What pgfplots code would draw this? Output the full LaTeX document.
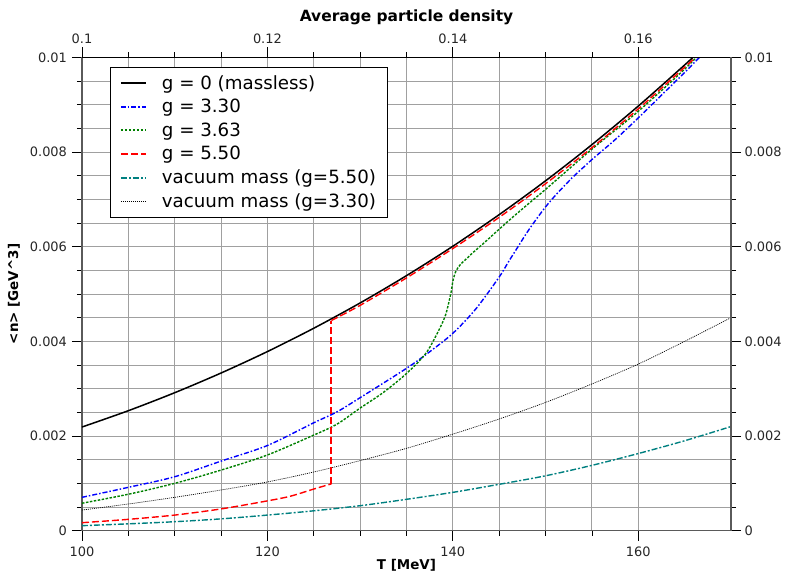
\documentclass[border=0pt]{standalone}
\usepackage{fontspec}
\setmainfont{DejaVu Sans}
\usepackage{pgfplots}
\pgfplotsset{compat=1.18}
\definecolor{tealc}{RGB}{0,128,128}
\definecolor{greenc}{RGB}{0,128,0}
\definecolor{gridc}{RGB}{160,160,160}
\definecolor{axc}{RGB}{90,90,90}
\begin{document}
\begin{tikzpicture}
\pgfplotsset{
  every axis/.append style={
    scale only axis, width=649bp, height=473.4bp,
    tick align=outside, major tick length=10bp, minor tick length=5bp,
    tick label style={font=\fontsize{13}{15}\selectfont, text=black!85},
    /pgf/number format/assume math mode=true,
    tick style={black, line width=0.8bp},
  },
}
\begin{axis}[
  xmin=100, xmax=170, ymin=0, ymax=0.01,
  xtick={100,120,140,160}, xticklabels={100,120,140,160},
  ytick={0,0.002,0.004,0.006,0.008,0.01},
  yticklabels={0,0.002,0.004,0.006,0.008,0.01},
  minor x tick num=3, minor y tick num=3,
  xtick pos=bottom, ytick pos=left,
  xticklabel style={yshift=-3bp},
  yticklabel style={xshift=-1.5bp},
  grid=both,
  major grid style={gridc, line width=0.9bp},
  minor grid style={gridc, line width=0.9bp},
  x axis line style={black, line width=1bp},
  y axis line style={axc, line width=1.2bp},
  scaled y ticks=false, scaled x ticks=false,
  xlabel={\bfseries T [MeV]},
  ylabel={\bfseries <n> [GeV\textasciicircum 3]},
  xlabel style={at={(axis description cs:0.5,-0.0725)}, anchor=center, font=\fontsize{13.5}{16}\selectfont},
  ylabel style={at={(axis description cs:-0.1048,0.5)}, anchor=center, font=\fontsize{13.5}{16}\selectfont},
  legend style={at={(axis description cs:0.0431,0.980)}, anchor=north west,
    draw=black, line width=0.9bp, fill=white,
    font=\fontsize{18.3}{22.8}\selectfont,
    inner xsep=9.5bp, inner ysep=6bp, row sep=4.6bp,
    cells={anchor=west}},
  legend image code/.code={\draw[#1] (0bp,0bp) -- (25bp,0bp); \path (38bp,0bp);},
]
% g = 0 massless
\addplot[black, line width=1.5bp, smooth, legend image post style={line width=2bp}] coordinates {
(100,0.00219) (105,0.002535) (110,0.002915) (115,0.003331) (120,0.003784)
(125,0.004277) (130,0.004811) (135,0.005388) (140,0.006009) (145,0.006677)
(150,0.007391) (155,0.008155) (160,0.008970) (165,0.009838) (167,0.010200)};
\addlegendentry{g = 0 (massless)}
% g = 3.30
\addplot[blue, line width=1.4bp, smooth, dash pattern=on 5bp off 2bp on 1.5bp off 2bp, legend image post style={line width=2bp}] coordinates {
(100,0.000705) (105,0.000916) (110,0.00114) (115,0.00147) (120,0.00180)
(125,0.00228) (127.5,0.00251) (130,0.00281) (135,0.00343) (137.5,0.00378)
(140,0.00417) (142.5,0.00469) (145,0.00536) (146,0.00568) (147,0.00599)
(148,0.00630) (149,0.00658) (150,0.00684) (151,0.00707) (152,0.00728)
(153,0.00748) (154,0.00766) (155,0.00784) (157.5,0.00826) (160,0.00872)
(162.5,0.00920) (165,0.00968) (167,0.01008)};
\addlegendentry{g = 3.30}
% g = 3.63
\addplot[greenc, line width=1.4bp, smooth, dash pattern=on 2.5bp off 1.5bp, legend image post style={line width=2bp}] coordinates {
(100,0.00058) (105,0.00077) (110,0.00100) (115,0.00128) (120,0.00160)
(125,0.00202) (127.5,0.00225) (130,0.00259) (132.5,0.00292) (135,0.00332)
(137.1,0.00375) (138.5,0.00424) (139.2,0.00455) (139.6,0.00485) (139.85,0.00508)
(140.0,0.00527) (140.3,0.00547) (140.8,0.00562) (141.5,0.00575) (142.2,0.00588)
(143.6,0.00612) (145,0.00637) (146.5,0.00663) (148.6,0.00698) (150,0.00721)
(155,0.00806) (160,0.00886) (165,0.00975) (167,0.01015)};
\addlegendentry{g = 3.63}
% g = 5.50 lower branch
\addplot[red, line width=1.4bp, smooth, dash pattern=on 7bp off 3bp, legend image post style={line width=2bp}] coordinates {
(100,0.000169) (105,0.00024) (110,0.00033) (115,0.00046) (120,0.00063)
(122.5,0.00073) (125,0.00088) (126.9,0.00099)};
\addlegendentry{g = 5.50}
% vacuum mass g=5.50
\addplot[tealc, line width=1.4bp, smooth, dash pattern=on 6bp off 2bp on 2bp off 2bp, legend image post style={line width=2bp}] coordinates {
(100,0.000106) (105,0.000145) (110,0.00019) (115,0.00025) (120,0.00033)
(125,0.00042) (130,0.000528) (135,0.000663) (140,0.00081) (145,0.00098)
(150,0.00116) (155,0.00138) (160,0.00163) (165,0.00190) (170,0.00220)};
\addlegendentry{vacuum mass (g=5.50)}
% vacuum mass g=3.30
\addplot[black, line width=0.7bp, smooth, dash pattern=on 1bp off 1bp] coordinates {
(100,0.000437) (105,0.000564) (110,0.000705) (115,0.00086) (120,0.00103)
(125,0.00124) (130,0.00148) (135,0.00174) (140,0.00204) (145,0.00236)
(150,0.00271) (155,0.00310) (160,0.00352) (165,0.00400) (170,0.00450)};
\addlegendentry{vacuum mass (g=3.30)}
% g = 5.50 jump and upper branch
\addplot[red, line width=2bp, dash pattern=on 7bp off 3bp, forget plot] coordinates {
(126.9,0.00099) (126.9,0.00444)};
\addplot[red, line width=1.4bp, smooth, dash pattern=on 7bp off 3bp, forget plot] coordinates {
(126.9,0.00444) (130,0.00476) (135,0.00534) (140,0.00596) (145,0.00662)
(150,0.00733) (155,0.00809) (160,0.00891) (165,0.00979) (167,0.01015)};
\end{axis}
\begin{axis}[
  xmin=0.1, xmax=0.17, ymin=0, ymax=0.01,
  axis x line*=top, axis y line*=right,
  x axis line style={black, line width=1bp, -},
  y axis line style={axc, line width=1.2bp, -},
  xtick={0.1,0.12,0.14,0.16}, xticklabels={0.1,0.12,0.14,0.16},
  ytick={0,0.002,0.004,0.006,0.008,0.01},
  yticklabels={0,0.002,0.004,0.006,0.008,0.01},
  minor x tick num=3, minor y tick num=3,
  scaled y ticks=false, scaled x ticks=false,
  title={\bfseries Average particle density},
  title style={at={(axis description cs:0.5,1.0725)}, anchor=center, font=\fontsize{15.5}{18}\selectfont},
]
\end{axis}
\pgfresetboundingbox
\useasboundingbox (-82bp,-43.3bp) rectangle (706bp,530.7bp);
\end{tikzpicture}
\end{document}
